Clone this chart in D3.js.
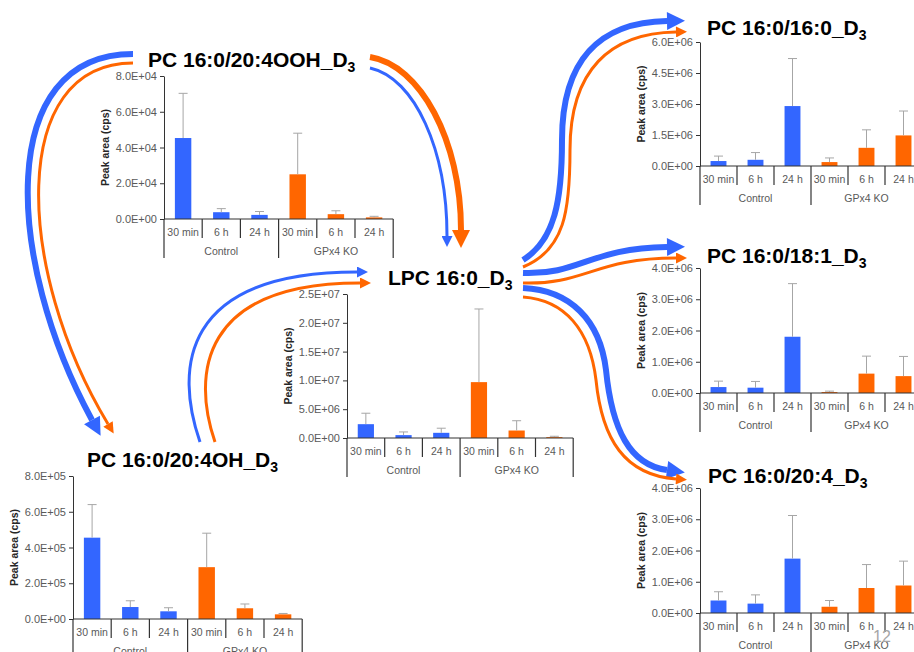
<!DOCTYPE html>
<html>
<head>
<meta charset="utf-8">
<script src="https://cdn.jsdelivr.net/npm/d3@7"></script>
<style>
  body { margin: 0; background: #fff; }
  svg { display: block; font-family: "Liberation Sans", Arial, sans-serif; }
</style>
</head>
<body>
<div id="chart"></div>
<script>
// categories
const timepoints = ["30 min", "6 h", "24 h"];
const groups = ["Control", "GPx4 KO"];

// Peak area (cps), Control x3 then GPx4 KO x3; error = upper SD
const oohMean = [4.53e4, 3.8e3, 2.3e3, 2.5e4, 2.7e3, 0.9e3];
const oohErr = [2.5e4, 2.0e3, 1.9e3, 2.3e4, 1.9e3, 0.6e3];
const oohTicks = [0, 2e4, 4e4, 6e4, 8e4];

const lpcMean = [2.4e6, 0.5e6, 0.9e6, 9.7e6, 1.3e6, 0.15e6];
const lpcErr = [1.9e6, 0.55e6, 0.8e6, 1.27e7, 1.7e6, 0.15e6];
const lpcTicks = [0, 5e6, 1e7, 1.5e7, 2e7, 2.5e7];

const ohMean = [4.55e5, 6.7e4, 4.3e4, 2.9e5, 6.0e4, 2.6e4];
const ohErr = [1.85e5, 3.5e4, 2.0e4, 1.9e5, 2.4e4, 5e3];
const ohTicks = [0, 2e5, 4e5, 6e5, 8e5];

const pc160Mean = [2.4e5, 3.0e5, 2.9e6, 1.9e5, 8.8e5, 1.48e6];
const pc160Err = [2.4e5, 3.5e5, 2.3e6, 2.0e5, 8.7e5, 1.18e6];
const pc160Ticks = [0, 1.5e6, 3e6, 4.5e6, 6e6];

const pc181Mean = [1.9e5, 1.7e5, 1.8e6, 3e4, 6.2e5, 5.4e5];
const pc181Err = [1.9e5, 2.0e5, 1.7e6, 3e4, 5.6e5, 6.3e5];
const pc181Ticks = [0, 1e6, 2e6, 3e6, 4e6];

const pc204Mean = [4.0e5, 3.0e5, 1.74e6, 2.0e5, 8.0e5, 8.8e5];
const pc204Err = [2.8e5, 2.8e5, 1.38e6, 2.0e5, 7.5e5, 7.8e5];
const pc204Ticks = [0, 1e6, 2e6, 3e6, 4e6];

const width = 914, height = 652;
const blue = "#3366ff", orange = "#ff6600";
const colors = [blue, orange];

// panel placement
const charts = [
  { title: "PC 16:0/20:4OOH", mean: oohMean, err: oohErr, ticks: oohTicks, x0: 164, yTop: 76, yZero: 219, cw: 38.2, tx: 148, ty: 67 },
  { title: "LPC 16:0", mean: lpcMean, err: lpcErr, ticks: lpcTicks, x0: 347, yTop: 294, yZero: 438, cw: 37.7, tx: 388, ty: 285 },
  { title: "PC 16:0/20:4OH", mean: ohMean, err: ohErr, ticks: ohTicks, x0: 73, yTop: 476, yZero: 619, cw: 38.2, tx: 87, ty: 467 },
  { title: "PC 16:0/16:0", mean: pc160Mean, err: pc160Err, ticks: pc160Ticks, x0: 700, yTop: 42, yZero: 166, cw: 37, tx: 707, ty: 35 },
  { title: "PC 16:0/18:1", mean: pc181Mean, err: pc181Err, ticks: pc181Ticks, x0: 700, yTop: 268, yZero: 393, cw: 37, tx: 707, ty: 263 },
  { title: "PC 16:0/20:4", mean: pc204Mean, err: pc204Err, ticks: pc204Ticks, x0: 700, yTop: 488, yZero: 613, cw: 37, tx: 708, ty: 483 }
];

// flow arrows (path ends at the arrowhead base)
const arrows = [
  { d: "M133,54 C-5,54 5,260 92,420", c: blue, w: 6, big: true },
  { d: "M133,63 C8,63 15,270 108,424", c: orange, w: 3, big: false },
  { d: "M370,57 C420,65 461,140 461,230", c: orange, w: 6, big: true },
  { d: "M370,68 C415,78 447,150 447,236", c: blue, w: 3, big: false },
  { d: "M200,442 C175,370 180,272 357,272", c: blue, w: 3, big: false },
  { d: "M215,442 C192,375 200,283 360,283", c: orange, w: 3, big: false },
  { d: "M523,260 C555,240 562,200 562,140 C562,60 600,22 667,21", c: blue, w: 6, big: true },
  { d: "M523,267 C565,250 570,210 570,150 C570,70 610,33 676,32", c: orange, w: 3, big: false },
  { d: "M523,273 C580,275 590,248 667,247", c: blue, w: 6, big: true },
  { d: "M523,283 C585,285 595,258 676,258", c: orange, w: 3, big: false },
  { d: "M523,288 C570,290 600,320 606,370 C612,430 630,465 667,470", c: blue, w: 6, big: true },
  { d: "M523,297 C565,300 590,330 596,380 C602,440 625,475 676,479", c: orange, w: 3, big: false }
];

const fmt = v => v.toExponential(1).toUpperCase().replace(/E([+-])(\d)$/, "E$10$2");

const svg = d3.select("#chart").append("svg")
  .attr("width", width)
  .attr("height", height);

const defs = svg.append("defs");
[[blue, true], [blue, false], [orange, true], [orange, false]].forEach(([c, big]) => {
  defs.append("marker")
      .attr("id", `head-${c.slice(1)}-${big ? "b" : "s"}`)
      .attr("viewBox", "0 0 10 10")
      .attr("refX", 0)
      .attr("refY", 5)
      .attr("markerUnits", "userSpaceOnUse")
      .attr("markerWidth", big ? 27 : 18)
      .attr("markerHeight", big ? 18 : 11)
      .attr("orient", "auto")
    .append("path")
      .attr("d", "M0,0 L10,5 L0,10 Z")
      .attr("fill", c);
});

svg.append("g")
    .attr("class", "arrows")
  .selectAll("path")
  .data(arrows)
  .join("path")
    .attr("d", d => d.d)
    .attr("fill", "none")
    .attr("stroke", d => d.c)
    .attr("stroke-width", d => d.w)
    .attr("marker-end", d => `url(#head-${d.c.slice(1)}-${d.big ? "b" : "s"})`);

charts.forEach(ch => {
  const g = svg.append("g").attr("class", "panel");
  const keys = d3.cross(groups, timepoints).map(d => d.join("|"));
  const x = d3.scaleBand().domain(keys).range([ch.x0, ch.x0 + 6 * ch.cw]);
  const y = d3.scaleLinear().domain([0, d3.max(ch.ticks)]).range([ch.yZero, ch.yTop]);
  const bw = x.bandwidth() * 0.43;

  // title with subscript
  const t = g.append("text")
    .attr("x", ch.tx)
    .attr("y", ch.ty)
    .attr("font-size", 21)
    .attr("font-weight", "bold")
    .attr("fill", "#000");
  t.append("tspan").text(ch.title + "_D");
  t.append("tspan").attr("dy", 5).attr("font-size", 14).text("3");

  // y axis
  const ya = g.append("g")
    .attr("transform", `translate(${ch.x0},0)`)
    .call(d3.axisLeft(y).tickValues(ch.ticks).tickFormat(fmt).tickSize(4).tickSizeOuter(0));
  ya.select(".domain").attr("stroke", "#333");
  ya.selectAll(".tick line").attr("stroke", "#333");
  ya.selectAll(".tick text")
    .attr("font-size", 11)
    .attr("fill", "#595959")
    .attr("font-family", "'Liberation Sans', Arial, sans-serif");

  g.append("text")
    .attr("transform", `translate(${ch.x0 - 55},${(ch.yTop + ch.yZero) / 2}) rotate(-90)`)
    .attr("text-anchor", "middle")
    .attr("font-size", 10.5)
    .attr("font-weight", "bold")
    .attr("fill", "#262626")
    .text("Peak area (cps)");

  // bars
  g.selectAll("rect.bar")
    .data(ch.mean)
    .join("rect")
      .attr("class", "bar")
      .attr("x", (d, i) => x(keys[i]) + (x.bandwidth() - bw) / 2)
      .attr("y", d => y(d))
      .attr("width", bw)
      .attr("height", d => ch.yZero - y(d))
      .attr("fill", (d, i) => colors[Math.floor(i / 3)]);

  // upper error bars
  const eb = g.selectAll("g.err")
    .data(ch.mean.map((m, i) => [m, ch.err[i], keys[i]]))
    .join("g")
      .attr("class", "err")
      .attr("stroke", "#a6a6a6")
      .attr("stroke-width", 1);
  eb.append("line")
    .attr("x1", d => x(d[2]) + x.bandwidth() / 2)
    .attr("x2", d => x(d[2]) + x.bandwidth() / 2)
    .attr("y1", d => y(d[0]))
    .attr("y2", d => y(d[0] + d[1]));
  eb.append("line")
    .attr("x1", d => x(d[2]) + x.bandwidth() / 2 - 4.5)
    .attr("x2", d => x(d[2]) + x.bandwidth() / 2 + 4.5)
    .attr("y1", d => y(d[0] + d[1]))
    .attr("y2", d => y(d[0] + d[1]));

  // category axis
  const xa = g.append("g").attr("stroke", "#333").attr("stroke-width", 1.2);
  xa.append("line")
    .attr("x1", ch.x0).attr("x2", ch.x0 + 6 * ch.cw)
    .attr("y1", ch.yZero).attr("y2", ch.yZero);
  d3.range(7).forEach(i => {
    const xx = ch.x0 + i * x.step();
    xa.append("line")
      .attr("x1", xx).attr("x2", xx)
      .attr("y1", ch.yZero)
      .attr("y2", ch.yZero + (i % 3 === 0 ? 39 : 19));
  });

  g.selectAll("text.cat")
    .data(keys)
    .join("text")
      .attr("class", "cat")
      .attr("x", d => x(d) + x.bandwidth() / 2)
      .attr("y", ch.yZero + 17)
      .attr("text-anchor", "middle")
      .attr("font-size", 10.5)
      .attr("fill", "#595959")
      .text(d => d.split("|")[1]);

  g.selectAll("text.grp")
    .data(groups)
    .join("text")
      .attr("class", "grp")
      .attr("x", (d, i) => ch.x0 + (i * 3 + 1.5) * x.step())
      .attr("y", ch.yZero + 36)
      .attr("text-anchor", "middle")
      .attr("font-size", 10.5)
      .attr("fill", "#595959")
      .text(d => d);
});

svg.append("text")
  .attr("x", 873)
  .attr("y", 642)
  .attr("font-size", 16)
  .attr("fill", "#a6a6a6")
  .text("12");
</script>
</body>
</html>
